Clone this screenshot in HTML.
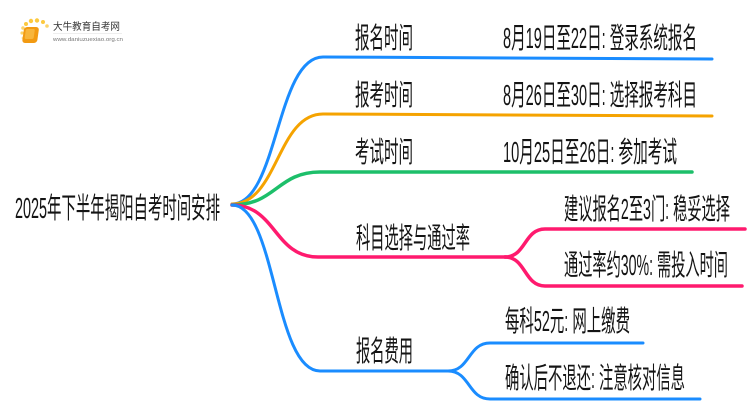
<!DOCTYPE html>
<html>
<head>
<meta charset="utf-8">
<style>
html,body{margin:0;padding:0;background:#fff;}
svg{display:block;}
text{font-family:"Liberation Sans","Noto Sans CJK SC",sans-serif;fill:#141414;}
</style>
</head>
<body>
<svg width="750" height="410" viewBox="0 0 750 410" xmlns="http://www.w3.org/2000/svg">
  <rect width="750" height="410" fill="#fff"/>

  <!-- logo -->
  <g>
    <circle cx="22" cy="33" r="1.6" fill="#fbd36a"/>
    <circle cx="23" cy="28" r="1.8" fill="#fbd36a"/>
    <circle cx="26" cy="24" r="2" fill="#fcc93f"/>
    <circle cx="31" cy="21" r="2.2" fill="#fcc93f"/>
    <circle cx="37" cy="20.5" r="2.2" fill="#fcc93f"/>
    <circle cx="43" cy="22" r="2" fill="#fcc93f"/>
    <circle cx="47" cy="26" r="1.8" fill="#fbd36a"/>
    <circle cx="23" cy="38" r="1.4" fill="#fde3a0"/>
    <rect x="28" y="27" width="15" height="16" rx="3" fill="#f29a12" transform="skewX(-8)"/>
    <rect x="30" y="29" width="9" height="10" rx="1.5" fill="#f7b53c" transform="skewX(-8)"/>
    <text x="53" y="30" font-size="10" textLength="67" lengthAdjust="spacingAndGlyphs" style="fill:#333">大牛教育自考网</text>
    <line x1="53" y1="33.5" x2="122" y2="33.5" stroke="#ddd" stroke-width="0.6"/>
    <text x="53" y="41" font-size="5.5" textLength="70" lengthAdjust="spacingAndGlyphs" style="fill:#777">www.daniuzuexiao.org.cn</text>
  </g>

  <!-- connectors -->
  <g fill="none" stroke-linecap="round">
    <path d="M232,204 C278,204 276,57 323,57 L712,59" stroke="#1a8cff" stroke-width="3"/>
    <path d="M232,204 C278,204 277,114 323,114 L712,116" stroke="#f5a300" stroke-width="3"/>
    <path d="M232,205 C276,205 277,172 320,172 L692,172" stroke="#1dbf6a" stroke-width="3.5"/>
    <path d="M232,205 C276,205 274,257 318,257 L507,257" stroke="#ff1a6e" stroke-width="3.5"/>
    <path d="M505,257 C526,257 524,229 545,229 L745,229" stroke="#ff1a6e" stroke-width="3.5"/>
    <path d="M505,257 C526,257 524,286 545,286 L742,286" stroke="#ff1a6e" stroke-width="3.5"/>
    <path d="M232,205 C276,205 274,371 320,371 L450,371" stroke="#1a8cff" stroke-width="3"/>
    <path d="M448,371 C470,371 468,343 490,343 L643,343" stroke="#1a8cff" stroke-width="3"/>
    <path d="M448,371 C470,371 468,399 490,399 L700,399" stroke="#1a8cff" stroke-width="3"/>
  </g>

  <!-- labels -->
  <g font-size="29">
    <text x="15" y="218" textLength="205" lengthAdjust="spacingAndGlyphs">2025年下半年揭阳自考时间安排</text>

    <text x="355" y="48" textLength="58" lengthAdjust="spacingAndGlyphs">报名时间</text>
    <text x="503" y="48" textLength="194" lengthAdjust="spacingAndGlyphs">8月19日至22日: 登录系统报名</text>

    <text x="355" y="105" textLength="58" lengthAdjust="spacingAndGlyphs">报考时间</text>
    <text x="503" y="105" textLength="194" lengthAdjust="spacingAndGlyphs">8月26日至30日: 选择报考科目</text>

    <text x="355" y="162" textLength="58" lengthAdjust="spacingAndGlyphs">考试时间</text>
    <text x="503" y="162" textLength="174" lengthAdjust="spacingAndGlyphs">10月25日至26日: 参加考试</text>

    <text x="356" y="248" textLength="114" lengthAdjust="spacingAndGlyphs">科目选择与通过率</text>
    <text x="564" y="219" textLength="166" lengthAdjust="spacingAndGlyphs">建议报名2至3门: 稳妥选择</text>
    <text x="564" y="275" textLength="164" lengthAdjust="spacingAndGlyphs">通过率约30%: 需投入时间</text>

    <text x="356" y="361" textLength="57" lengthAdjust="spacingAndGlyphs">报名费用</text>
    <text x="505" y="331" textLength="125" lengthAdjust="spacingAndGlyphs">每科52元: 网上缴费</text>
    <text x="505" y="388" textLength="180" lengthAdjust="spacingAndGlyphs">确认后不退还: 注意核对信息</text>
  </g>
</svg>
</body>
</html>
